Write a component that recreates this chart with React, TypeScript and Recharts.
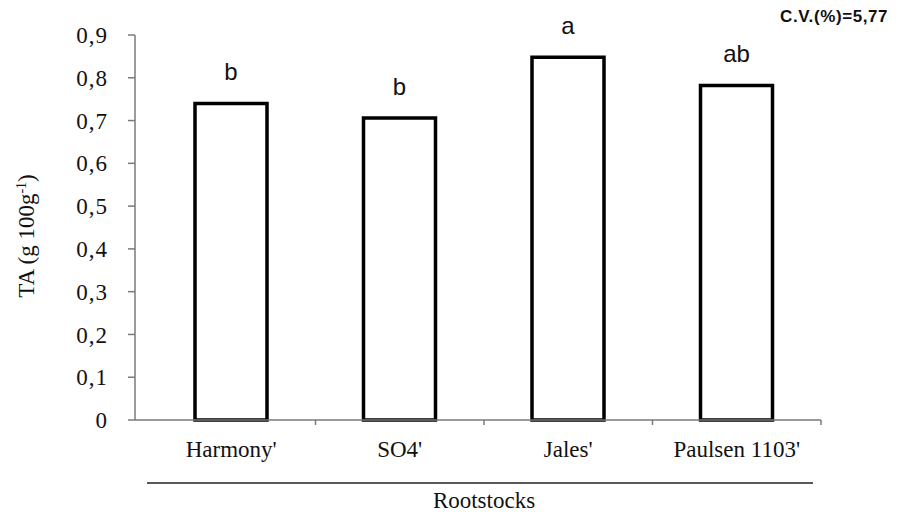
import { Bar, BarChart, LabelList, XAxis, YAxis } from "recharts";

// Rootstock titratable acidity.
const ROOTSTOCKS = ["Harmony'", "SO4'", "Jales'", "Paulsen 1103'"];
const TA_VALUES = [0.74, 0.706, 0.848, 0.782];
const LETTERS = ["b", "b", "a", "ab"];
const Y_TICKS = [0, 0.1, 0.2, 0.3, 0.4, 0.5, 0.6, 0.7, 0.8, 0.9];

const AXIS_GREY = "#7a7a7a";
const SERIF = "'Liberation Serif', 'Times New Roman', serif";
const SANS = "'Liberation Sans', Arial, sans-serif";
const BAND = 168.5; // category band width, used for boundary tick marks

const data = ROOTSTOCKS.map((name, i) => ({
  name,
  ta: TA_VALUES[i],
  letter: LETTERS[i],
}));

function fmtTick(v: number): string {
  return String(Math.round(v * 10) / 10).replace(".", ",");
}

function CategoryTick(props: any) {
  const { x, y, payload } = props;
  return (
    <g>
      <line x1={x + BAND / 2} x2={x + BAND / 2} y1={y - 8} y2={y - 3} stroke={AXIS_GREY} strokeWidth={1.5} />
      <text x={x} y={y + 29} textAnchor="middle" fontFamily={SERIF} fontSize={23} fill="#111">
        {payload.value}
      </text>
    </g>
  );
}

function RootstocksLabel(props: any) {
  const { viewBox } = props;
  const { x, y, width } = viewBox;
  return (
    <g>
      <line x1={x + 12} x2={x + width - 8} y1={y + 63} y2={y + 63} stroke="#222" strokeWidth={1.5} />
      <text x={x + width / 2 + 6} y={y + 88} textAnchor="middle" fontFamily={SERIF} fontSize={23} fill="#111">
        Rootstocks
      </text>
    </g>
  );
}

function TaLabel() {
  return (
    <text transform="translate(34, 236) rotate(-90)" textAnchor="middle" fontFamily={SERIF} fontSize={23} fill="#111">
      TA (g 100g
      <tspan dy={-8} fontSize={14}>-1</tspan>
      <tspan dy={8}>)</tspan>
    </text>
  );
}

export default function App() {
  return (
    <div style={{ position: "relative", width: 902, height: 514, margin: "-8px 0 0 -8px", background: "#fff" }}>
      <BarChart
        width={902}
        height={514}
        data={data}
        margin={{ top: 35, right: 81, left: 0, bottom: 0 }}
        barCategoryGap={0}
      >
        <XAxis
          dataKey="name"
          stroke={AXIS_GREY}
          strokeWidth={1.5}
          tickLine={false}
          tick={<CategoryTick />}
          padding={{ left: 12, right: 0 }}
          height={94}
          interval={0}
          label={{ content: <RootstocksLabel /> }}
        />
        <YAxis
          domain={[0, 0.9]}
          ticks={Y_TICKS}
          tickFormatter={fmtTick}
          width={135}
          stroke={AXIS_GREY}
          strokeWidth={1.5}
          tickSize={7}
          tick={{ fontFamily: SERIF, fontSize: 23, fill: "#111", dx: -18, letterSpacing: 1 }}
          interval={0}
          label={{ content: <TaLabel /> }}
        />
        <Bar
          dataKey="ta"
          barSize={72}
          fill="#fff"
          stroke="#000"
          strokeWidth={3.5}
          isAnimationActive={false}
        >
          <LabelList dataKey="letter" position="top" offset={23} fontFamily={SANS} fontSize={24} fill="#111" />
        </Bar>
      </BarChart>
      <div
        style={{
          position: "absolute",
          left: 780,
          top: 7,
          fontFamily: SANS,
          fontWeight: 700,
          fontSize: 17,
          color: "#111",
          letterSpacing: 0.6,
          whiteSpace: "nowrap",
        }}
      >
        C.V.(%)=5,77
      </div>
    </div>
  );
}
